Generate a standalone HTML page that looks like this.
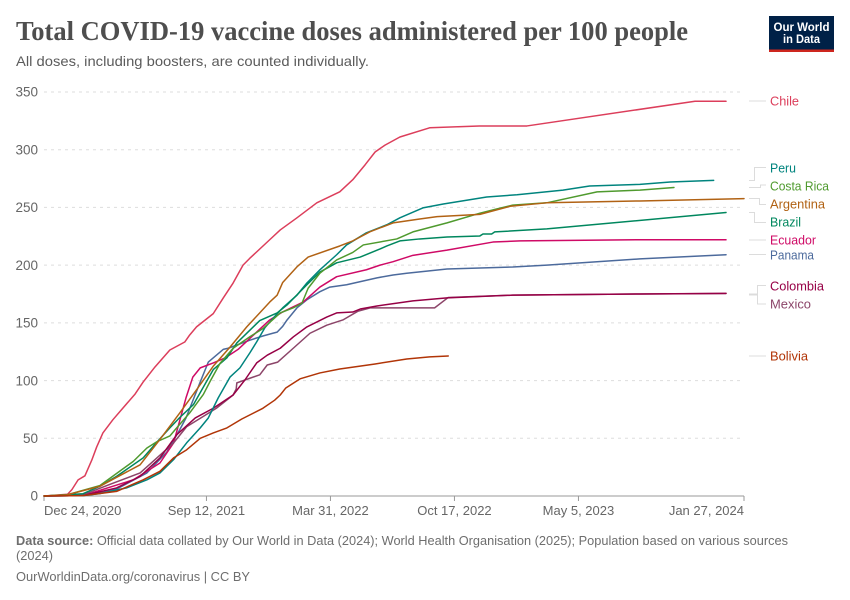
<!DOCTYPE html>
<html lang="en">
<head>
<meta charset="utf-8">
<title>Total COVID-19 vaccine doses administered per 100 people</title>
<style>
html,body{margin:0;padding:0;background:#fff;}
svg{display:block;font-family:"Liberation Sans",sans-serif;}
</style>
</head>
<body>
<svg id="chart" width="850" height="600" viewBox="0 0 850 600" xmlns="http://www.w3.org/2000/svg">
  <rect width="850" height="600" fill="#fff"/>
  <text x="16" y="40" font-family="'Liberation Serif',serif" font-weight="700" font-size="27" fill="#4e4e4e" textLength="672" lengthAdjust="spacingAndGlyphs">Total COVID-19 vaccine doses administered per 100 people</text>
  <text x="16" y="66" font-size="14" fill="#5b5b5b" textLength="353" lengthAdjust="spacingAndGlyphs">All doses, including boosters, are counted individually.</text>

  <g>
    <rect x="769" y="16" width="65" height="36" fill="#002147"/>
    <rect x="769" y="49.5" width="65" height="2.5" fill="#ce261e"/>
    <text x="801.5" y="31" text-anchor="middle" font-size="12" font-weight="700" fill="#fff" textLength="56" lengthAdjust="spacingAndGlyphs">Our World</text>
    <text x="801.5" y="43" text-anchor="middle" font-size="12" font-weight="700" fill="#fff" textLength="37" lengthAdjust="spacingAndGlyphs">in Data</text>
  </g>

  <g id="grid"></g>
  <g id="y-axis"></g>
  <g id="x-axis"></g>
  <g id="series" fill="none" stroke-width="1.5" stroke-linejoin="round" stroke-linecap="round"></g>

  <g fill="none" stroke="#dcdcdc" stroke-width="1">
    <path d="M749 101H766"/>
    <path d="M749 180.5H754.5V167.5H766"/>
    <path d="M749 187.5H760.5V185H766"/>
    <path d="M749 198.5H759.5V204.5H766"/>
    <path d="M749 212.5H754.5V222.5H766"/>
    <path d="M749 240H766"/>
    <path d="M749 254.5H766"/>
    <path d="M749 294H757.5V285.5H766"/>
    <path d="M749 295H757.5V304H766"/>
    <path d="M749 356H766"/>
  </g>

  <g font-size="13">
    <text x="770" y="105.5" fill="#dc3e5b" textLength="29" lengthAdjust="spacingAndGlyphs">Chile</text>
    <text x="770" y="172.5" fill="#00847e" textLength="26" lengthAdjust="spacingAndGlyphs">Peru</text>
    <text x="770" y="190.5" fill="#4f9a2e" textLength="59" lengthAdjust="spacingAndGlyphs">Costa Rica</text>
    <text x="770" y="208.5" fill="#b16214" textLength="55" lengthAdjust="spacingAndGlyphs">Argentina</text>
    <text x="770" y="226.5" fill="#00875e" textLength="31" lengthAdjust="spacingAndGlyphs">Brazil</text>
    <text x="770" y="244.5" fill="#cf0a66" textLength="46" lengthAdjust="spacingAndGlyphs">Ecuador</text>
    <text x="770" y="259.5" fill="#4c6a9c" textLength="44" lengthAdjust="spacingAndGlyphs">Panama</text>
    <text x="770" y="290.5" fill="#970046" textLength="54" lengthAdjust="spacingAndGlyphs">Colombia</text>
    <text x="770" y="308.5" fill="#8c4569" textLength="41" lengthAdjust="spacingAndGlyphs">Mexico</text>
    <text x="770" y="360.5" fill="#b13507" textLength="38" lengthAdjust="spacingAndGlyphs">Bolivia</text>
  </g>

  <g font-size="13" fill="#6e6e6e">
    <text x="16" y="545" textLength="772" lengthAdjust="spacingAndGlyphs"><tspan font-weight="700">Data source:</tspan> Official data collated by Our World in Data (2024); World Health Organisation (2025); Population based on various sources</text>
    <text x="16" y="560" textLength="37" lengthAdjust="spacingAndGlyphs">(2024)</text>
    <text x="16" y="581" textLength="234" lengthAdjust="spacingAndGlyphs">OurWorldinData.org/coronavirus | CC BY</text>
  </g>
</svg>
<script>
const yTicks = [0, 50, 100, 150, 200, 250, 300, 350];
const xTickDays = [0, 262, 462, 662, 862, 1129];
const xTickLabels = ["Dec 24, 2020", "Sep 12, 2021", "Mar 31, 2022", "Oct 17, 2022", "May 5, 2023", "Jan 27, 2024"];

const chileDays = [0,38,45,55,66,77,85,95,111,126,147,160,179,203,227,235,246,273,289,305,321,332,364,381,408,440,477,498,518,534,550,574,622,702,779,1050,1100];
const chileValues = [0,1.5,5.5,14,17.5,31,42.5,54.6,66,75.4,88.4,98.8,111.8,126.5,133.4,139.5,146.5,158,171.5,184.5,200,206,222,230.5,241,254,263.5,274,287,298,304,311,319,320.6,320.6,342,342];

const peruDays = [0,63,90,133,166,187,209,230,252,265,281,300,316,332,343,356,377,385,408,424,445,472,488,520,553,574,611,644,714,763,837,880,961,1010,1080];
const peruValues = [0,0.3,2,7,14,20,31.5,46,59,67.6,85,103,111,124,133.5,145.6,158.6,163,174,184.5,196,209,217.5,228,235,241,249.6,253,259,261,265,268.6,270,272,273.4];

const costaRicaDays = [0,37,90,144,166,182,203,214,235,257,268,284,305,332,353,381,402,416,426,445,472,498,515,569,595,650,703,730,756,811,892,961,1016];
const costaRicaValues = [0,1,9,30,41.6,47,52,59,72,88,99.4,115,128,138,145,158.6,163,167,180,193,204.5,211,217.5,222.7,228.8,236.6,245,248.7,252,254,263.5,265,267.3];

const argentinaDays = [0,37,90,155,187,219,246,273,300,327,364,376,385,408,426,477,498,526,563,606,634,703,752,811,961,1129];
const argentinaValues = [0,1,8.4,27,49,72,92,112.5,129,146.5,168,174,185,198.5,207,216.6,221,229,236.6,240,242,244,251,254,255.6,257.6];

const brazilDays = [0,63,90,117,160,181,203,219,241,273,295,311,348,376,392,424,445,472,510,542,553,574,606,650,703,708,722,727,811,1100];
const brazilValues = [0,2,8.4,17,33,46,59,68,79.2,109.5,119.7,132.6,152,158.6,165.5,183,194,202,207,214,216.6,221,222.7,224.4,225.3,227,227,228.8,231.4,245.6];

const ecuadorDays = [0,63,144,187,209,229,240,252,273,292,313,343,364,385,418,445,472,520,542,563,595,650,724,768,961,1100];
const ecuadorValues = [0,0.3,14,28.6,46,85,103,111,115.3,119.6,127,142,152.5,159.5,168,181,190,196,200,203,208.5,213,220,221,222,222];

const panamaDays = [0,63,117,166,198,219,229,252,265,289,297,332,353,369,376,385,392,408,424,445,461,488,537,563,585,650,756,811,961,1100];
const panamaValues = [0,0.3,6,20,38,57.5,67.6,98.8,116,127,128,135,138.6,141,142,147,152.5,163,170,177,181,183,189,191.5,193,196.7,198.4,200,205.4,209];

const colombiaDays = [0,63,117,155,187,214,244,273,305,324,343,360,381,402,424,456,472,498,510,537,595,650,756,961,1100];
const colombiaValues = [0,0.3,7,17,33,53,67.6,76,87.5,100.5,115.3,122,128,137.8,146.5,155,158.6,159.4,162,164.6,169,171.6,174,175,175.5];

const mexicoDays = [0,63,106,155,176,209,230,257,278,305,310,311,332,348,360,377,402,429,456,482,506,526,630,652,756,961,1100];
const mexicoValues = [0,1,10,20,30,46,60,69,76,87.5,92.7,98,102,105,113.5,116,128,141,148,152.5,160,163,163,172,174,175,175.4];

const boliviaDays = [0,63,117,160,187,209,230,252,273,295,319,353,372,381,390,413,445,477,534,585,622,652];
const boliviaValues = [0,0.3,4,14,21.4,33,40,50,54.6,59,66.7,76,83,87.5,93.6,101.5,106.6,110,114.4,118.7,120.5,121.3];

const svgNS = "http://www.w3.org/2000/svg";
const plotLeft = 44, plotRight = 744, plotTop = 92, plotBottom = 496;
const maxDay = 1129, maxValue = 350;

function xScale(day) {
  return plotLeft + (day / maxDay) * (plotRight - plotLeft);
}
function yScale(value) {
  return plotBottom - (value / maxValue) * (plotBottom - plotTop);
}
function make(tag, attrs, parent) {
  const el = document.createElementNS(svgNS, tag);
  for (const k in attrs) el.setAttribute(k, attrs[k]);
  parent.appendChild(el);
  return el;
}

const gridGroup = document.getElementById("grid");
const yAxisGroup = document.getElementById("y-axis");
const xAxisGroup = document.getElementById("x-axis");
const seriesGroup = document.getElementById("series");

yTicks.forEach(function (tick) {
  const y = yScale(tick);
  if (tick > 0) {
    const grid = make("line", {x1: plotLeft, x2: plotRight, y1: y, y2: y, stroke: "#dddddd", "stroke-dasharray": "3,4"}, gridGroup);
    
    
  }
  const label = make("text", {x: 38, y: y + 4.7, "text-anchor": "end", "font-size": 13.5, fill: "#666666"}, yAxisGroup);
  
  
  label.textContent = String(tick);
});

const baseline = make("line", {x1: plotLeft, x2: plotRight, y1: plotBottom, y2: plotBottom, stroke: "#999999"}, xAxisGroup);



xTickDays.forEach(function (day, i) {
  const x = xScale(day);
  const tick = make("line", {x1: x, x2: x, y1: plotBottom, y2: plotBottom + 5, stroke: "#999999"}, xAxisGroup);
  
  
  let anchor = "middle";
  if (i === 0) anchor = "start";
  if (i === xTickDays.length - 1) anchor = "end";
  const label = make("text", {x: x, y: 515, "text-anchor": anchor, "font-size": 13, fill: "#666666"}, xAxisGroup);
  
  
  label.textContent = xTickLabels[i];
});

function drawSeries(days, values, color, name) {
  const d = days.map(function (day, i) {
    return (i ? "L" : "M") + xScale(day).toFixed(2) + " " + yScale(values[i]).toFixed(2);
  }).join("");
  const line = make("path", {d: d, stroke: color}, seriesGroup);
  
  
}

drawSeries(chileDays, chileValues, "#dc3e5b", "line-chile");
drawSeries(panamaDays, panamaValues, "#4c6a9c", "line-panama");
drawSeries(ecuadorDays, ecuadorValues, "#cf0a66", "line-ecuador");
drawSeries(mexicoDays, mexicoValues, "#8c4569", "line-mexico");
drawSeries(colombiaDays, colombiaValues, "#970046", "line-colombia");
drawSeries(peruDays, peruValues, "#00847e", "line-peru");
drawSeries(brazilDays, brazilValues, "#00875e", "line-brazil");
drawSeries(costaRicaDays, costaRicaValues, "#4f9a2e", "line-costa-rica");
drawSeries(argentinaDays, argentinaValues, "#b16214", "line-argentina");
drawSeries(boliviaDays, boliviaValues, "#b13507", "line-bolivia");
</script>
</body>
</html>
